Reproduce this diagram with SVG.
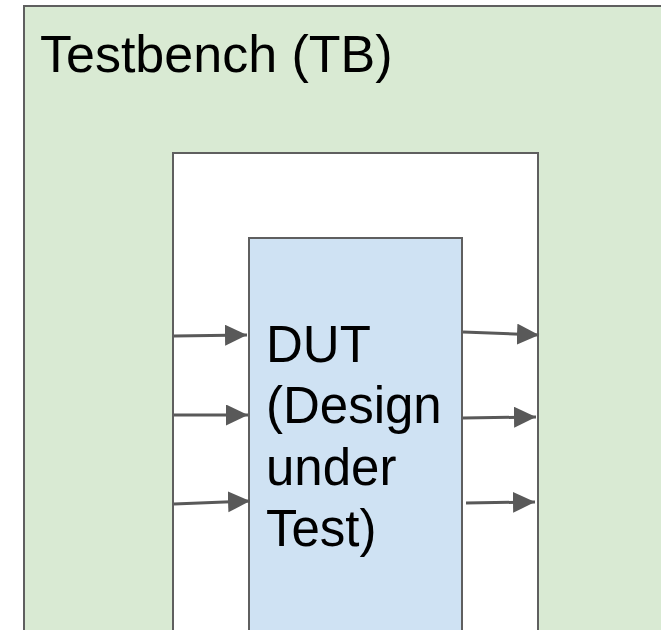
<svg xmlns="http://www.w3.org/2000/svg" width="661" height="630" viewBox="0 0 661 630">
  <style>
    .box { stroke: #5f5f5f; stroke-width: 2; }
    .label { font-family: "Liberation Sans", Arial, sans-serif; fill: #000000; }
    .wire { stroke: #595959; stroke-width: 3; fill: none; marker-end: url(#head); }
  </style>
  <defs>
    <marker id="head" markerUnits="userSpaceOnUse" markerWidth="24" markerHeight="22" refX="22" refY="10.5" orient="auto" viewBox="0 0 24 22">
      <path d="M0,0 L22,10.5 L0,21 Z" fill="#595959"/>
    </marker>
  </defs>
  <rect width="661" height="630" fill="#ffffff"/>

  <g id="testbench">
    <rect class="box" x="24" y="6" width="700" height="700" fill="#d9ead3"/>
    <text class="label" x="40" y="72" font-size="52">Testbench (TB)</text>
  </g>

  <g id="harness">
    <rect class="box" x="173" y="153" width="365" height="520" fill="#ffffff"/>
  </g>

  <g id="dut">
    <rect class="box" x="249" y="238" width="213" height="440" fill="#cfe2f3"/>
    <text class="label" font-size="51">
      <tspan x="266" y="362">DUT</tspan>
      <tspan x="266" y="423">(Design</tspan>
      <tspan x="266" y="485">under</tspan>
      <tspan x="266" y="546">Test)</tspan>
    </text>
  </g>

  <g id="connectors">
    <line class="wire" x1="174" y1="336" x2="247" y2="335"/>
    <line class="wire" x1="174" y1="415" x2="248" y2="415"/>
    <line class="wire" x1="174" y1="504" x2="250" y2="501"/>
    <line class="wire" x1="463" y1="332" x2="539" y2="335"/>
    <line class="wire" x1="463" y1="418" x2="536" y2="417"/>
    <line class="wire" x1="466" y1="503" x2="535" y2="502"/>
  </g>
</svg>
